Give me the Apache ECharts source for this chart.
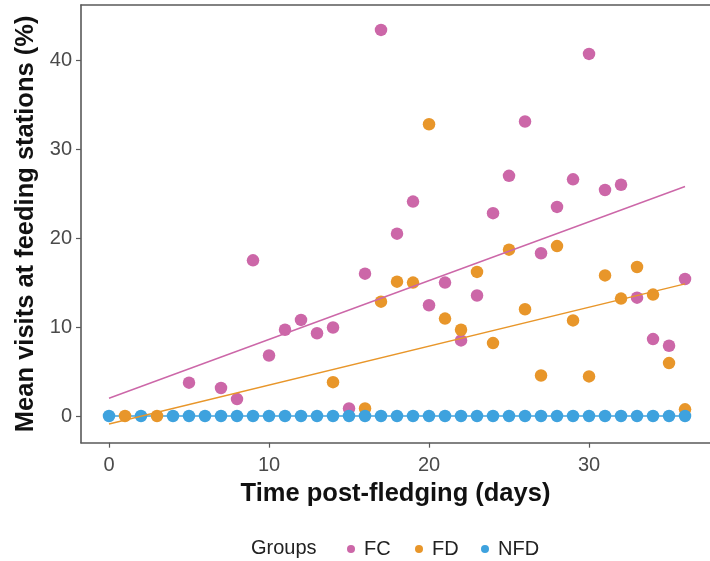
<!DOCTYPE html>
<html>
<head>
<meta charset="utf-8">
<script src="https://cdn.jsdelivr.net/npm/echarts@6/dist/echarts.min.js"></script>
<style>
html,body{margin:0;padding:0;background:#fff;}
#chart{width:710px;height:561px;}
</style>
</head>
<body>
<div id="chart"></div>
<script>
// Data
const groupNames = ['FC', 'FD', 'NFD'];
const xTicks = [0, 10, 20, 30];
const yTicks = [0, 10, 20, 30, 40];

const fcDays = [5,7,8,9,10,11,12,13,14,15,16,17,18,19,20,21,22,23,24,25,26,27,28,29,30,31,32,33,34,35,36];
const fcValues = [3.75,3.15,1.9,17.5,6.8,9.7,10.8,9.3,9.95,0.85,16.0,43.4,20.5,24.1,12.45,15.0,8.5,13.55,22.8,27.0,33.1,18.3,23.5,26.6,40.7,25.4,26.0,13.3,8.65,7.9,15.4];

const fdDays = [1,3,14,16,17,18,19,20,21,22,23,24,25,26,27,28,29,30,31,32,33,34,35,36];
const fdValues = [0,0,3.8,0.85,12.85,15.1,15.0,32.8,10.95,9.7,16.2,8.2,18.7,12.0,4.55,19.1,10.75,4.45,15.8,13.2,16.75,13.65,5.95,0.75];

const nfdDays = [0,2,4,5,6,7,8,9,10,11,12,13,14,15,16,17,18,19,20,21,22,23,24,25,26,27,28,29,30,31,32,33,34,35,36];
const nfdValues = [0,0,0,0,0,0,0,0,0,0,0,0,0,0,0,0,0,0,0,0,0,0,0,0,0,0,0,0,0,0,0,0,0,0,0];

const trendDays = [0, 36];
const fcTrend = [2.0, 25.8];
const fdTrend = [-0.9, 14.85];
const nfdTrend = [0, 0];

const colors = {FC: '#CC67A8', FD: '#E8962A', NFD: '#3EA2DE'};

function pairs(xs, ys) { return xs.map((x, i) => [x, ys[i]]); }

const chart = echarts.init(document.getElementById('chart'), null, {renderer: 'canvas'});
const font = 'Liberation Sans, Arial, Helvetica, sans-serif';
const axisColor = '#595959';

function scatter(name, xs, ys, z) {
  return {
    name: name, type: 'scatter', data: pairs(xs, ys),
    symbol: 'circle', symbolSize: 12.5, z: z,
    itemStyle: {color: colors[name], opacity: 1},
    emphasis: {disabled: true}
  };
}
function trend(name, ys, z) {
  return {
    name: name, type: 'line', data: pairs(trendDays, ys),
    showSymbol: false, symbol: 'none', z: z,
    lineStyle: {color: colors[name], width: 1.4},
    emphasis: {disabled: true}
  };
}
function legendFor(name, left) {
  return {
    data: [{name: name, icon: 'circle'}],
    left: left, top: 534,
    itemWidth: 8, itemHeight: 8,
    textStyle: {fontFamily: font, fontSize: 20, color: '#222', padding: [0, 0, 0, 4]}
  };
}

chart.setOption({
  animation: false,
  backgroundColor: '#ffffff',
  textStyle: {fontFamily: font},
  title: {
    text: 'Groups', left: 246, top: 533,
    textStyle: {fontFamily: font, fontSize: 20, fontWeight: 'normal', color: '#222'}
  },
  legend: [legendFor('FC', 342), legendFor('FD', 410), legendFor('NFD', 476)],
  grid: {
    left: 81, right: 0, top: 5, bottom: 118.3,
    show: false
  },
  xAxis: [{
    type: 'value', min: -1.75, max: 37.56,
    name: 'Time post-fledging (days)', nameLocation: 'middle', nameGap: 37,
    nameTextStyle: {fontFamily: font, fontSize: 25.5, fontWeight: 'bold', color: '#111'},
    axisLine: {show: true, onZero: false, lineStyle: {color: axisColor, width: 1.6}},
    axisTick: {show: true, length: 5, customValues: xTicks, lineStyle: {color: axisColor, width: 1.2}},
    axisLabel: {
      fontFamily: font, fontSize: 20, color: '#4a4a4a', margin: 13,
      customValues: xTicks,
      formatter: v => String(v)
    },
    splitLine: {show: false}
  }, {
    type: 'value', min: -1.75, max: 37.56, position: 'top',
    axisLine: {show: true, onZero: false, lineStyle: {color: axisColor, width: 1.6}},
    axisTick: {show: false}, axisLabel: {show: false}, splitLine: {show: false}
  }],
  yAxis: {
    type: 'value', min: -3.0, max: 46.2,
    name: 'Mean visits at feeding stations (%)', nameLocation: 'middle', nameGap: 42,
    nameTextStyle: {fontFamily: font, fontSize: 25.5, fontWeight: 'bold', color: '#111'},
    axisLine: {show: true, onZero: false, lineStyle: {color: axisColor, width: 1.6}},
    axisTick: {show: true, length: 5, customValues: yTicks, lineStyle: {color: axisColor, width: 1.2}},
    axisLabel: {
      fontFamily: font, fontSize: 20, color: '#4a4a4a', margin: 9,
      customValues: yTicks,
      formatter: v => String(v)
    },
    splitLine: {show: false}
  },
  series: [
    scatter('FC', fcDays, fcValues, 2),
    scatter('FD', fdDays, fdValues, 3),
    scatter('NFD', nfdDays, nfdValues, 4),
    trend('FC', fcTrend, 5),
    trend('FD', fdTrend, 5),
    trend('NFD', nfdTrend, 3)
  ]
});
</script>
</body>
</html>
